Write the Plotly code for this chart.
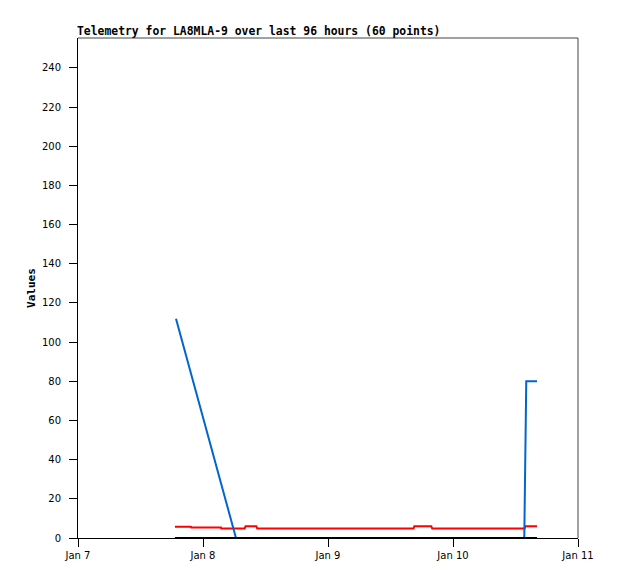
import plotly.graph_objects as go

# Red series (telemetry channel 1)
red_times = ["2024-01-07 18:37", "2024-01-07 21:41", "2024-01-07 21:45", "2024-01-08 03:27",
             "2024-01-08 03:31", "2024-01-08 08:00", "2024-01-08 08:10", "2024-01-08 10:15",
             "2024-01-08 10:25", "2024-01-09 16:25", "2024-01-09 16:35", "2024-01-09 19:50",
             "2024-01-09 20:00", "2024-01-10 13:45", "2024-01-10 13:55", "2024-01-10 16:08"]
red_values = [5.8, 5.8, 5.3, 5.3, 4.8, 4.8, 6.0, 6.0, 4.8, 4.8, 6.0, 6.0, 4.8, 4.8, 6.0, 6.0]

# Blue series (telemetry channel 2)
blue_times = ["2024-01-07 18:49", "2024-01-08 06:20", "2024-01-10 13:38", "2024-01-10 13:41",
              "2024-01-10 13:44", "2024-01-10 13:49", "2024-01-10 13:53", "2024-01-10 13:58",
              "2024-01-10 14:04", "2024-01-10 16:08"]
blue_values = [112, 0, 0, 0, 10, 30, 50, 70, 80, 80]

# Black series (telemetry channel 3)
black_times = ["2024-01-07 18:37", "2024-01-10 16:08"]
black_values = [0, 0]

x_tick_vals = ["2024-01-07", "2024-01-08", "2024-01-09", "2024-01-10", "2024-01-11"]
x_tick_text = ["Jan 7", "Jan 8", "Jan 9", "Jan 10", "Jan 11"]
y_tick_vals = list(range(0, 241, 20))

fig = go.Figure()
fig.add_trace(go.Scatter(x=red_times, y=red_values, mode="lines",
                         line=dict(color="#ff0000", width=2), showlegend=False))
fig.add_trace(go.Scatter(x=blue_times, y=blue_values, mode="lines",
                         line=dict(color="#0066cc", width=2), showlegend=False))
fig.add_trace(go.Scatter(x=black_times, y=black_values, mode="lines",
                         line=dict(color="#000000", width=2), showlegend=False))

tick_font = dict(family="DejaVu Sans", size=10, color="#000000")

fig.update_layout(
    width=618, height=579,
    margin=dict(l=78, r=40, t=38, b=41),
    paper_bgcolor="#ffffff", plot_bgcolor="#ffffff",
    title=dict(text="<b>Telemetry for LA8MLA-9 over last 96 hours (60 points)</b>",
               x=77 / 618, xanchor="left", y=1 - 31 / 579, yanchor="middle",
               font=dict(family="DejaVu Sans Mono", size=11.4, color="#000000")),
    xaxis=dict(type="date", range=["2024-01-07", "2024-01-11"],
               tickvals=x_tick_vals, ticktext=x_tick_text,
               showgrid=False, zeroline=False,
               showline=True, linecolor="#000000", linewidth=1,
               ticks="outside", ticklen=8, tickcolor="#000000", tickwidth=1,
               tickfont=tick_font),
    yaxis=dict(range=[0, 255.3], tickvals=y_tick_vals,
               showgrid=False, zeroline=False,
               showline=True, linecolor="#000000", linewidth=1,
               ticks="outside", ticklen=8, tickcolor="#000000", tickwidth=1,
               ticklabelstandoff=6,
               tickfont=tick_font,
               title=dict(text="<b>Values</b>", standoff=4,
                          font=dict(family="DejaVu Sans Mono", size=11, color="#000000"))),
    shapes=[
        dict(type="line", xref="paper", yref="paper", x0=0, x1=1, y0=1, y1=1,
             line=dict(color="#444444", width=1)),
        dict(type="line", xref="paper", yref="paper", x0=1, x1=1, y0=0, y1=1,
             line=dict(color="#444444", width=1)),
    ],
)

fig.write_html("out.html", config={"displayModeBar": False},
               post_script="document.body.style.margin='0';document.body.style.overflow='hidden';")
